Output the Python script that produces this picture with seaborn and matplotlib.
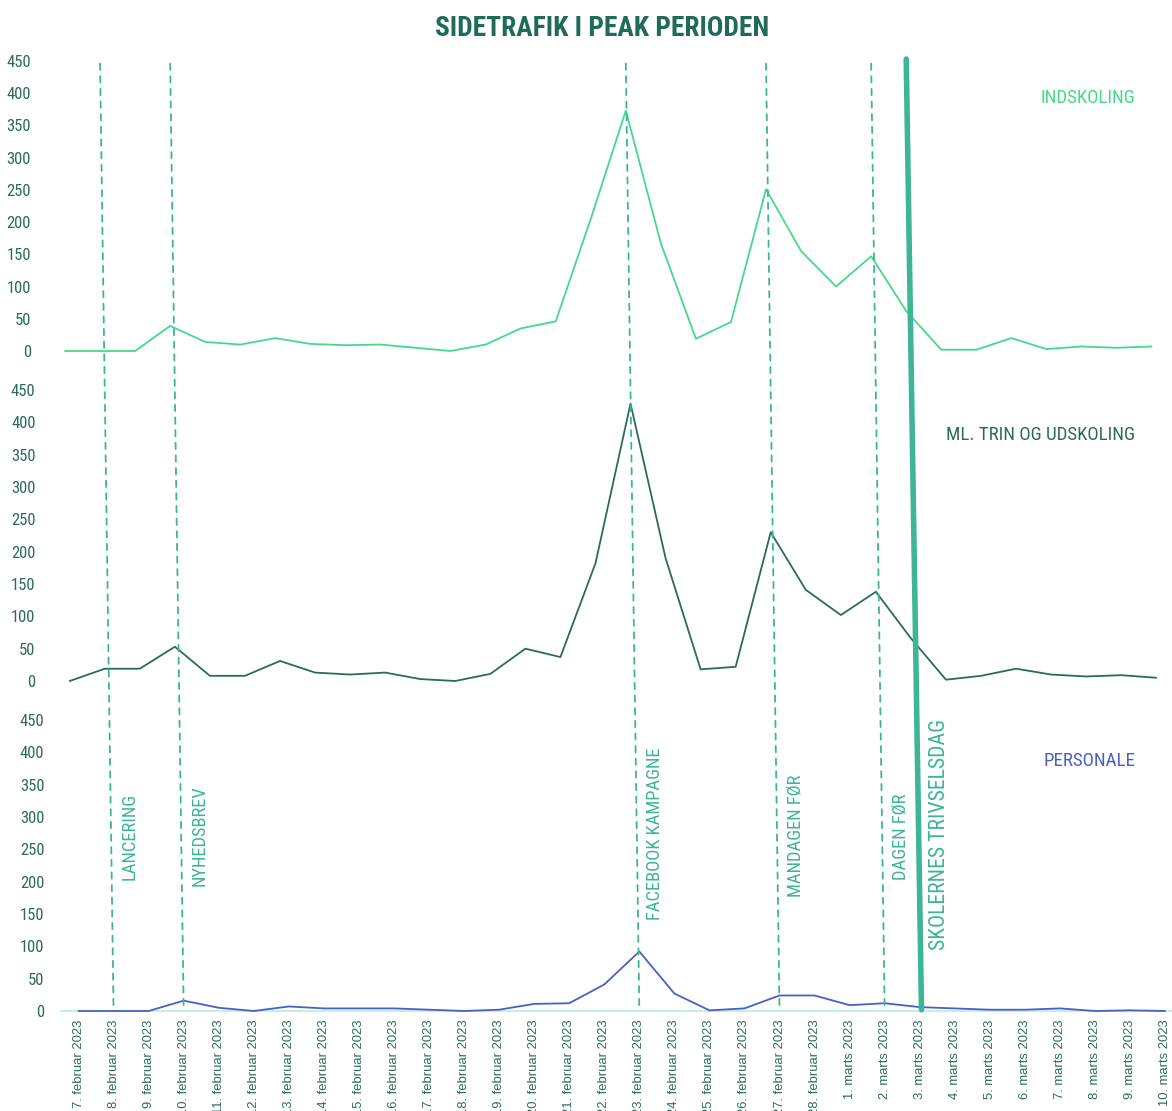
import numpy as np
import pandas as pd
from matplotlib import pyplot as plt
from matplotlib import font_manager
from matplotlib.patches import ConnectionPatch
import seaborn as sns

# Data
dates = ["7. februar 2023", "8. februar 2023", "9. februar 2023", "10. februar 2023",
         "11. februar 2023", "12. februar 2023", "13. februar 2023", "14. februar 2023",
         "15. februar 2023", "16. februar 2023", "17. februar 2023", "18. februar 2023",
         "19. februar 2023", "20. februar 2023", "21. februar 2023", "22. februar 2023",
         "23. februar 2023", "24. februar 2023", "25. februar 2023", "26. februar 2023",
         "27. februar 2023", "28. februar 2023", "1. marts 2023", "2. marts 2023",
         "3. marts 2023", "4. marts 2023", "5. marts 2023", "6. marts 2023",
         "7. marts 2023", "8. marts 2023", "9. marts 2023", "10. marts 2023"]
indskoling = [0, 0, 0, 39, 14, 10, 20, 11, 9, 10, 5, 0, 10, 35, 46, 205,
              373, 167, 19, 45, 251, 155, 100, 147, 62, 2, 2, 20, 3, 7, 5, 7]
mellemtrin = [0, 19, 19, 53, 8, 8, 31, 13, 10, 13, 3, 0, 11, 50, 37, 182,
              429, 190, 18, 22, 230, 141, 102, 138, 66, 2, 8, 19, 10, 7, 9, 5]
personale = [0, 0, 0, 16, 5, 0, 7, 4, 4, 4, 2, 0, 2, 11, 12, 41,
             92, 27, 1, 4, 24, 24, 9, 12, 6, 4, 2, 2, 4, 0, 1, 0]

event_labels = ["LANCERING", "NYHEDSBREV", "FACEBOOK KAMPAGNE", "MANDAGEN FØR", "DAGEN FØR"]
event_days = ["8. februar 2023", "10. februar 2023", "23. februar 2023",
              "27. februar 2023", "2. marts 2023"]
event_text_y = [203, 193, 141, 176, 203]
main_event = "SKOLERNES TRIVSELSDAG"
main_day = "3. marts 2023"

series_names = ["INDSKOLING", "ML. TRIN OG UDSKOLING", "PERSONALE"]
series_colors = ["#45D98A", "#2B6B5B", "#4A5FC4"]

df = pd.DataFrame({"dag": dates, "pos": np.arange(len(dates)),
                   "INDSKOLING": indskoling,
                   "ML. TRIN OG UDSKOLING": mellemtrin,
                   "PERSONALE": personale})

# pick a condensed font if one is installed, otherwise Liberation Sans
installed = {f.name for f in font_manager.fontManager.ttflist}
narrow = None
for cand in ["Liberation Sans Narrow", "Roboto Condensed", "DejaVu Sans Condensed",
             "Open Sans Condensed"]:
    if cand in installed:
        narrow = cand
        break
k = 1.0 if narrow else 0.85
head_font = [narrow or "Liberation Sans", "DejaVu Sans"]

sns.set_theme(style="white")
plt.rcParams["font.family"] = ["Liberation Sans", "DejaVu Sans"]

txt_color = "#2B6B5B"
event_color = "#3DB596"

fig = plt.figure(figsize=(11.72, 11.11), dpi=100)
W, H = 1172, 1111
step = 35.05
n = len(dates)

# panels (left edge px, zero line px, height px) - slight shear like the original
panels = [(47.5, 351, 290), (52.2, 681, 291), (61, 1011, 291)]
axes = []
for (left, bottom, height) in panels:
    ax = fig.add_axes([left / W, 1 - bottom / H, n * step / W, height / H])
    axes.append(ax)

for ax, name, color in zip(axes, series_names, series_colors):
    sns.lineplot(data=df, x="pos", y=name, ax=ax, color=color, linewidth=1.3,
                 zorder=3, clip_on=False)
    ax.set_xlim(-0.5, n - 0.5)
    ax.set_ylim(0, 450)
    ax.set_yticks(np.arange(0, 451, 50))
    ax.tick_params(axis="y", length=0, pad=12)
    for lab in ax.get_yticklabels():
        lab.set_fontfamily(head_font)
        lab.set_fontsize(12)
        lab.set_color(txt_color)
    ax.set_xlabel("")
    ax.set_ylabel("")
    for s in ax.spines.values():
        s.set_visible(False)
    ax.patch.set_alpha(0)

for ax in axes[:2]:
    ax.set_xticks([])

bot = axes[2]
bot.set_xticks(np.arange(n))
bot.set_xticklabels(dates, rotation=90, fontsize=9.4, color=txt_color)
bot.set_xticks(np.arange(-0.5, n, 1), minor=True)
bot.tick_params(axis="x", which="major", length=0, pad=6)
bot.tick_params(axis="x", which="minor", length=5, color="#C5EFE3", width=1.2)
bot.spines["bottom"].set_visible(True)
bot.spines["bottom"].set_color("#C5EFE3")
bot.spines["bottom"].set_linewidth(1.5)

# series labels
label_y = [98, 435, 761]
for name, color, y in zip(series_names, series_colors, label_y):
    fig.text(1135 / W, 1 - y / H, name, ha="right", va="center",
             fontsize=13.6 * k, color=color, family=head_font)

# dashed event lines spanning all panels
for day, label, ty in zip(event_days, event_labels, event_text_y):
    i = dates.index(day)
    con = ConnectionPatch(xyA=(i, 446), coordsA=axes[0].transData,
                          xyB=(i, 0), coordsB=bot.transData,
                          color=event_color, linewidth=1.3,
                          linestyle=(0, (3.5, 3.5)))
    fig.add_artist(con)
    bot.text(i + 0.45, ty, label, rotation=90, ha="center", va="bottom",
             fontsize=13.3 * k, color=event_color, family=head_font)

i = dates.index(main_day)
con = ConnectionPatch(xyA=(i, 453), coordsA=axes[0].transData,
                      xyB=(i + 0.05, 2), coordsB=bot.transData,
                      color=event_color, linewidth=4)
fig.add_artist(con)
bot.text(i + 0.55, 94, main_event, rotation=90, ha="center", va="bottom",
         fontsize=15.7 * k, color=event_color, family=head_font)

fig.text(602 / W, 1 - 28 / H, "SIDETRAFIK I PEAK PERIODEN", ha="center", va="center",
         fontsize=19.7 * k, fontweight="bold", color="#1F6B5A", family=head_font)

fig.savefig("out.png", dpi=100)
